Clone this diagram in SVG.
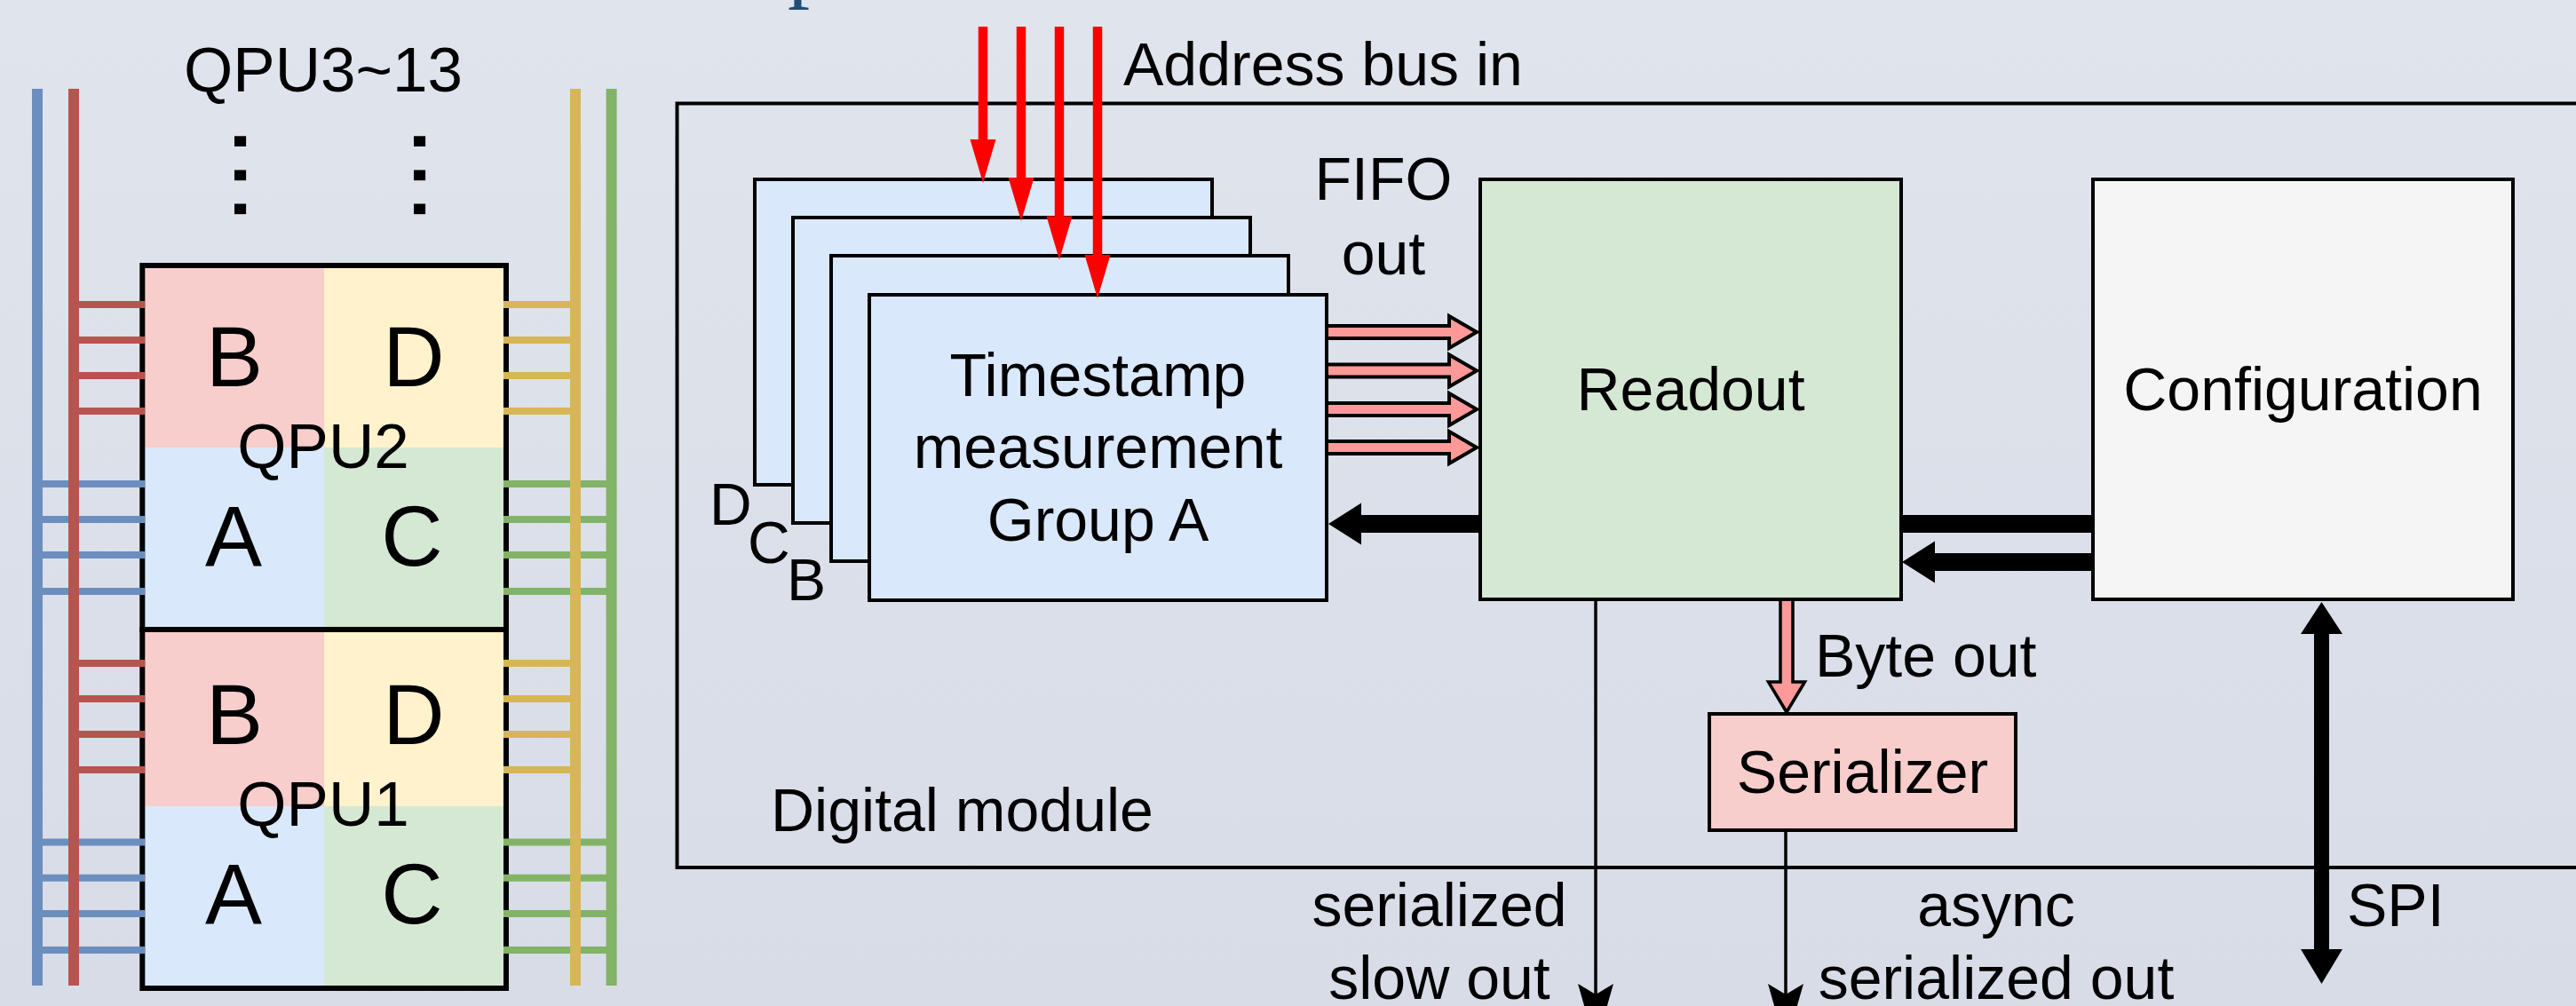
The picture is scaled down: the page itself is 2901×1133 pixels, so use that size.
<svg xmlns="http://www.w3.org/2000/svg" width="2901" height="1133" viewBox="0 0 2901 1133">
<defs>
<linearGradient id="bg" x1="0" y1="0" x2="0" y2="1">
<stop offset="0" stop-color="#e0e4ed"/>
<stop offset="1" stop-color="#d8dce6"/>
</linearGradient>
<style>
.t{font-family:"Liberation Sans",Arial,sans-serif;font-size:68px;fill:#000}
.m{text-anchor:middle}
.big{font-size:96px}
.q{font-size:71px}
.lbl{font-size:66px}
.dots{font-size:123px;letter-spacing:4px}
.grp{fill:#dae8fc;stroke:#000;stroke-width:4}
.blk{stroke:#000;stroke-width:4}
.bus{stroke-width:12;fill:none}
.stub{stroke-width:8;fill:none}
.fifo{fill:#ff9999;stroke:#000;stroke-width:4;stroke-linejoin:miter}
.red{stroke:#ff0000;stroke-width:10.5}
.redh{fill:#ff0000}
.thick{stroke:#000;stroke-width:20}
.thin{stroke:#000;stroke-width:3.5}
</style>
</defs>
<rect x="0" y="0" width="2901" height="1133" fill="url(#bg)"/>
<text x="887" y="-10" font-family="'Liberation Serif',serif" font-size="100" fill="#1f4e79">p</text>

<g id="digital-module">
<rect x="762.5" y="116.5" width="2200" height="860.5" fill="none" class="blk"/>
<text class="t" x="868" y="936">Digital module</text>
</g>

<g id="qpu-label">
<text class="t q m" x="364" y="103">QPU3~13</text>
<text class="t dots" transform="translate(264,142) rotate(90)">...</text>
<text class="t dots" transform="translate(466,142) rotate(90)">...</text>
</g>

<g id="qpu2">
<rect x="163" y="302" width="202" height="202" fill="#f8cecc"/>
<rect x="365" y="302" width="202" height="202" fill="#fff2cc"/>
<rect x="163" y="504" width="202" height="205" fill="#dae8fc"/>
<rect x="365" y="504" width="202" height="205" fill="#d5e8d4"/>
<rect x="160.3" y="299" width="409.7" height="410" fill="none" stroke="#000" stroke-width="6"/>
<text class="t big m" x="264" y="435">B</text>
<text class="t big m" x="466" y="435">D</text>
<text class="t q m" x="364" y="527">QPU2</text>
<text class="t big m" x="263" y="637">A</text>
<text class="t big m" x="464" y="637">C</text>
</g>

<g id="qpu1">
<rect x="163" y="709" width="202" height="199" fill="#f8cecc"/>
<rect x="365" y="709" width="202" height="199" fill="#fff2cc"/>
<rect x="163" y="908" width="202" height="202" fill="#dae8fc"/>
<rect x="365" y="908" width="202" height="202" fill="#d5e8d4"/>
<rect x="160.3" y="709" width="409.7" height="404" fill="none" stroke="#000" stroke-width="6"/>
<text class="t big m" x="264" y="838">B</text>
<text class="t big m" x="466" y="838">D</text>
<text class="t q m" x="364" y="930">QPU1</text>
<text class="t big m" x="263" y="1040">A</text>
<text class="t big m" x="464" y="1040">C</text>
</g>

<g id="group-d"><rect class="grp" x="850" y="202" width="515" height="344"/><text class="t lbl" x="799" y="591">D</text></g>
<g id="group-c"><rect class="grp" x="893" y="245" width="515" height="344"/><text class="t lbl" x="842" y="634">C</text></g>
<g id="group-b"><rect class="grp" x="936" y="288" width="515" height="344"/><text class="t lbl" x="886" y="676">B</text></g>
<g id="group-a"><rect class="grp" x="979" y="332" width="515" height="344"/>
<text class="t m" x="1236.5" y="445.5">Timestamp</text>
<text class="t m" x="1236.5" y="527">measurement</text>
<text class="t m" x="1236.5" y="609">Group A</text>
</g>

<g id="readout"><rect x="1667" y="202" width="474" height="473" fill="#d5e8d4" class="blk"/>
<text class="t m" x="1904" y="462">Readout</text></g>

<g id="configuration"><rect x="2357" y="202" width="473" height="473" fill="#f5f5f5" class="blk"/>
<text class="t m" x="2593.5" y="462">Configuration</text></g>

<g id="serializer"><rect x="1925" y="804" width="345" height="131" fill="#f8cecc" class="blk"/>
<text class="t m" x="2097.5" y="893">Serializer</text></g>

<g id="connectors">
<g stroke="#6c8ebf" class="stub">
<path d="M42,545H163M42,585H163M42,625H163M42,666H163M42,948.5H163M42,988.7H163M42,1029H163M42,1070H163"/>
</g>
<g stroke="#82b366" class="stub">
<path d="M567,545H688.6M567,585H688.6M567,625H688.6M567,666H688.6M567,948.5H688.6M567,988.7H688.6M567,1029H688.6M567,1070H688.6"/>
</g>
<line x1="42" y1="100" x2="42" y2="1110" stroke="#6c8ebf" class="bus"/>
<line x1="83" y1="100" x2="83" y2="1110" stroke="#b85450" class="bus"/>
<line x1="648" y1="100" x2="648" y2="1110" stroke="#d6b656" class="bus"/>
<line x1="688.6" y1="100" x2="688.6" y2="1110" stroke="#82b366" class="bus"/>
<g stroke="#b85450" class="stub">
<path d="M83,343H163M83,383H163M83,423H163M83,463H163M83,747H163M83,787H163M83,827H163M83,867H163"/>
</g>
<g stroke="#d6b656" class="stub">
<path d="M567,343H648M567,383H648M567,423H648M567,463H648M567,747H648M567,787H648M567,827H648M567,867H648"/>
</g>

<line class="red" x1="1107" y1="30" x2="1107" y2="160"/>
<polygon class="redh" points="1092.5,157 1121.5,157 1107,206"/>
<line class="red" x1="1150" y1="30" x2="1150" y2="203"/>
<polygon class="redh" points="1135.5,200 1164.5,200 1150,249"/>
<line class="red" x1="1193" y1="30" x2="1193" y2="246"/>
<polygon class="redh" points="1178.5,243.5 1207.5,243.5 1193,292.5"/>
<line class="red" x1="1236" y1="30" x2="1236" y2="290"/>
<polygon class="redh" points="1221.5,287 1250.5,287 1236,336"/>
<text class="t" x="1265" y="96">Address bus in</text>

<path class="fifo" d="M1496,367H1632V356L1663,374L1632,392V381H1496"/>
<path class="fifo" d="M1496,410.5H1632V399.5L1663,417.5L1632,435.5V424.5H1496"/>
<path class="fifo" d="M1496,454H1632V443L1663,461L1632,479V468H1496"/>
<path class="fifo" d="M1496,497H1632V486L1663,504L1632,522V511H1496"/>
<text class="t m" x="1558" y="225">FIFO</text>
<text class="t m" x="1558" y="309">out</text>

<line class="thick" x1="2141" y1="590" x2="2357" y2="590"/>
<line class="thick" x1="1530" y1="590" x2="1667" y2="590"/>
<polygon points="1496,590 1533,566.5 1533,613.5" fill="#000"/>
<line class="thick" x1="2176" y1="633" x2="2357" y2="633"/>
<polygon points="2142,633 2179,609.5 2179,656.5" fill="#000"/>

<path class="fifo" style="stroke-width:3.5px" d="M2005,677V768H1991.5L2012,802L2032.5,768H2019V677"/>
<text class="t" x="2044" y="762">Byte out</text>

<line class="thin" x1="1797" y1="677" x2="1797" y2="1125"/>
<polygon points="1797,1178 1777,1108 1797,1120 1817,1108" fill="#000"/>
<text class="t m" x="1621" y="1043">serialized</text>
<text class="t m" x="1621" y="1125">slow out</text>

<line class="thin" x1="2011" y1="935" x2="2011" y2="1125"/>
<polygon points="2011,1178 1991,1108 2011,1120 2031,1108" fill="#000"/>
<text class="t m" x="2248" y="1043">async</text>
<text class="t m" x="2248" y="1125">serialized out</text>

<line x1="2614.5" y1="708" x2="2614.5" y2="1074" stroke="#000" stroke-width="17"/>
<polygon points="2614.5,678 2591,714 2638,714" fill="#000"/>
<polygon points="2614.5,1108 2591,1069 2638,1069" fill="#000"/>
<text class="t" x="2643" y="1043">SPI</text>
</g>
</svg>
